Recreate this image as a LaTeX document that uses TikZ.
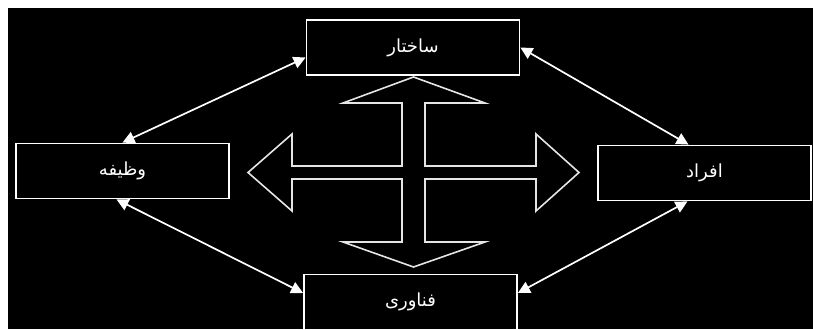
\documentclass[tikz,border=0pt]{standalone}
\usepackage{fontspec}
\usetikzlibrary{arrows.meta}
\newfontfamily\arabicfont[Script=Arabic]{DejaVu Sans}
\TeXXeTstate=1
\newcommand{\fatxt}[1]{\raisebox{-3pt}{\beginR #1\endR}}
\tikzset{
  box/.style={draw=white, line width=1.8pt, fill=black, text=white,
    minimum width=213pt, minimum height=55pt, inner sep=0pt,
    font=\arabicfont\fontsize{18}{21}\selectfont},
  link/.style={draw=white, line width=1.7pt,
    {Triangle[length=12pt,width=12pt]}-{Triangle[length=12pt,width=12pt]}},
  cross/.style={draw=white!90!black, line width=1.6pt, line join=miter}
}
\begin{document}
\begin{tikzpicture}[x=1pt,y=-1pt]
\useasboundingbox (0,0) rectangle (813,329);
\fill[white] (0,0) rectangle (813,329);
\fill[black] (8,8) rectangle (813,329);
\begin{scope}
\clip (8,8) rectangle (813,329);
\node[box] (T) at (413,47.5) {\fatxt{ساختار}};
\node[box] (L) at (122.5,171) {\fatxt{وظیفه}};
\node[box] (R) at (704.5,173) {\fatxt{افراد}};
\node[box] (B) at (410.5,302) {\fatxt{فناوری}};

\draw[link] (L.north) -- ([yshift=-10pt]T.west);
\draw[link] (T.east) -- ([xshift=-16pt]R.north);
\draw[link] ([xshift=-6pt]L.south) -- ([yshift=9pt]B.west);
\draw[link] ([xshift=-17pt]R.south) -- ([yshift=9pt]B.east);

\draw[cross] (413.5,77) -- (485,103) -- (425,103) -- (425,166) -- (536,166)
  -- (536,134) -- (579,172.5) -- (536,211) -- (536,179) -- (425,179)
  -- (425,242) -- (485,242) -- (413.5,267) -- (343,242) -- (402,242)
  -- (402,179) -- (292,179) -- (292,211) -- (248,172.5) -- (292,134)
  -- (292,166) -- (402,166) -- (402,103) -- (343,103) -- cycle;
\end{scope}
\end{tikzpicture}
\end{document}
